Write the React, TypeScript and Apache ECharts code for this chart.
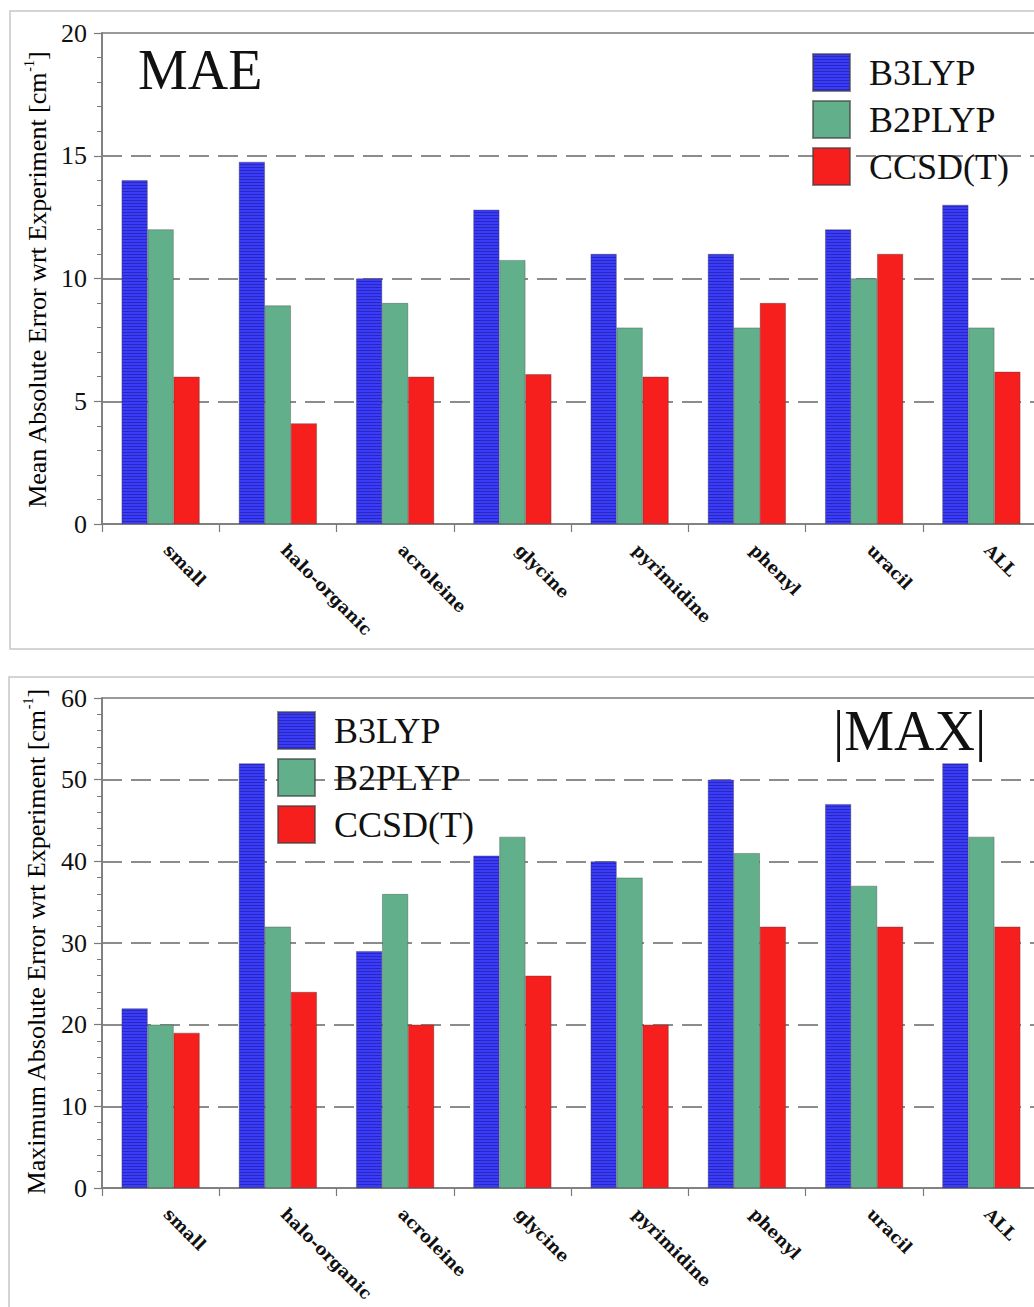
import React, { useEffect, useRef } from 'react';
import * as echarts from 'echarts';

const categories = ['small', 'halo-organic', 'acroleine', 'glycine', 'pyrimidine', 'phenyl', 'uracil', 'ALL'];
const seriesNames = ['B3LYP', 'B2PLYP', 'CCSD(T)'];

const maeB3LYP = [14, 14.75, 10, 12.8, 11, 11, 12, 13];
const maeB2PLYP = [12, 8.9, 9, 10.75, 8, 8, 10, 8];
const maeCCSDT = [6, 4.1, 6, 6.1, 6, 9, 11, 6.2];

const maxB3LYP = [22, 52, 29, 40.7, 40, 50, 47, 52];
const maxB2PLYP = [20, 32, 36, 43, 38, 41, 37, 43];
const maxCCSDT = [19, 24, 20, 26, 20, 32, 32, 32];

const maeAxis = { min: 0, max: 20, interval: 5 };
const maxAxis = { min: 0, max: 60, interval: 10 };

const FONT = 'Liberation Serif';
const LABEL_FONT = 'DejaVu Serif';

function makeStripes() {
  const c = document.createElement('canvas');
  c.width = 4;
  c.height = 3;
  const ctx = c.getContext('2d');
  if (ctx) {
    ctx.fillStyle = '#3b3bfa';
    ctx.fillRect(0, 0, 4, 3);
    ctx.fillStyle = '#2828bf';
    ctx.fillRect(0, 2, 4, 1);
  }
  return c;
}

export default function App() {
  const ref = useRef<HTMLDivElement>(null);

  useEffect(() => {
    if (!ref.current) return;
    const chart = echarts.init(ref.current, null, { renderer: 'svg' });
    const stripes = makeStripes();
    const colors: any[] = [
      { image: stripes, repeat: 'repeat' },
      '#62b08b',
      '#f71e1e',
    ];

    const gridLine = '#7a7a7a';

    const xAxisCommon = (gridIndex: number) => ({
      type: 'category',
      gridIndex,
      data: categories,
      boundaryGap: true,
      axisLine: { show: true, lineStyle: { color: gridLine, width: 1.5 } },
      axisTick: { show: true, length: 8, lineStyle: { color: gridLine, width: 1.2 } },
      axisLabel: {
        interval: 0,
        rotate: -45,
        margin: 29,
        verticalAlign: 'bottom',
        fontFamily: LABEL_FONT,
        fontWeight: 'bold',
        fontSize: 17,
        color: '#111',
      },
      splitLine: { show: false },
    });

    const yAxisCommon = (gridIndex: number, cfg: { min: number; max: number; interval: number }) => ({
      type: 'value',
      gridIndex,
      min: cfg.min,
      max: cfg.max,
      interval: cfg.interval,
      axisLine: { show: true, lineStyle: { color: gridLine, width: 1.5 } },
      axisTick: { show: true, length: 8, lineStyle: { color: gridLine, width: 1.2 } },
      minorTick: { show: true, splitNumber: 5, length: 5, lineStyle: { color: gridLine, width: 1 } },
      axisLabel: { margin: 15, fontFamily: FONT, fontSize: 26, color: '#111' },
      splitLine: {
        show: true,
        showMinLine: false,
        showMaxLine: false,
        lineStyle: { color: '#8c8c8c', width: 2, type: [20, 9] },
      },
    });

    const barSeries = (name: string, idx: number, data: number[], axis: number) => ({
      name,
      type: 'bar',
      xAxisIndex: axis,
      yAxisIndex: axis,
      data,
      barWidth: 26,
      barGap: '0%',
      itemStyle: { color: colors[idx], borderColor: 'rgba(60,60,60,0.6)', borderWidth: 0.6 },
    });

    const legendCommon = (left: number, top: number) => ({
      data: seriesNames,
      orient: 'vertical',
      left,
      top,
      padding: 0,
      itemWidth: 37,
      itemHeight: 37,
      itemGap: 8,
      icon: 'rect',
      selectedMode: false,
      textStyle: { fontFamily: FONT, fontSize: 36, color: '#111', padding: [0, 0, 0, 14] },
    });

    const yName = (text: string, x: number, y: number) => ({
      type: 'text',
      x,
      y,
      rotation: Math.PI / 2,
      style: {
        text: `{n|${text} [cm}{s|-1}{n|]}`,
        align: 'center',
        verticalAlign: 'middle',
        rich: {
          n: { fontFamily: FONT, fontSize: 26, color: '#111', lineHeight: 30 },
          s: { fontFamily: FONT, fontSize: 14, color: '#111', verticalAlign: 'top', lineHeight: 16 },
        },
      },
    });

    chart.setOption({
      animation: false,
      textStyle: { fontFamily: FONT },
      grid: [
        {
          left: 102, top: 33, width: 938, height: 491, show: true, borderColor: gridLine, borderWidth: 1.5,
          backgroundColor: 'transparent', containLabel: false, outerBoundsMode: 'none',
        },
        {
          left: 102, top: 698, width: 938, height: 490, show: true, borderColor: gridLine, borderWidth: 1.5,
          backgroundColor: 'transparent', containLabel: false, outerBoundsMode: 'none',
        },
      ],
      xAxis: [xAxisCommon(0), xAxisCommon(1)],
      yAxis: [yAxisCommon(0, maeAxis), yAxisCommon(1, maxAxis)],
      legend: [legendCommon(812, 53), legendCommon(277, 711)],
      series: [
        barSeries(seriesNames[0], 0, maeB3LYP, 0),
        barSeries(seriesNames[1], 1, maeB2PLYP, 0),
        barSeries(seriesNames[2], 2, maeCCSDT, 0),
        barSeries(seriesNames[0], 0, maxB3LYP, 1),
        barSeries(seriesNames[1], 1, maxB2PLYP, 1),
        barSeries(seriesNames[2], 2, maxCCSDT, 1),
      ],
      graphic: [
        {
          type: 'rect',
          z: -10,
          shape: { x: 10, y: 11, width: 1100, height: 638 },
          style: { fill: 'none', stroke: '#c6c6c6', lineWidth: 1.5 },
        },
        {
          type: 'rect',
          z: -10,
          shape: { x: 9, y: 677, width: 1100, height: 700 },
          style: { fill: 'none', stroke: '#c6c6c6', lineWidth: 1.5 },
        },
        {
          type: 'text',
          x: 138,
          y: 70,
          style: { text: 'MAE', fontFamily: FONT, fontSize: 56, fill: '#111', align: 'left', verticalAlign: 'middle' },
        },
        {
          type: 'text',
          x: 833,
          y: 731,
          style: { text: '|MAX|', fontFamily: FONT, fontSize: 56, fill: '#111', align: 'left', verticalAlign: 'middle' },
        },
        yName('Mean Absolute Error wrt Experiment', 37, 280),
        yName('Maximum Absolute Error wrt Experiment', 36, 942),
      ],
    });

    return () => {
      chart.dispose();
    };
  }, []);

  return (
    <div
      ref={ref}
      style={{ position: 'absolute', left: 0, top: 0, width: 1034, height: 1307, background: '#fff' }}
    />
  );
}
